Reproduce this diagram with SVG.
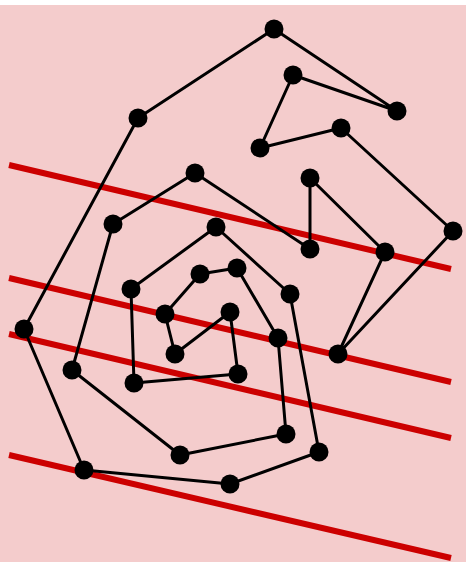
<svg xmlns="http://www.w3.org/2000/svg" width="466" height="562" viewBox="0 0 466 562">
<style>
.red{stroke:#cc0000;stroke-width:6;fill:none}
.edge{stroke:#000;stroke-width:3;fill:none;stroke-linejoin:round}
.node circle{fill:#000}
</style>
<rect x="0" y="0" width="466" height="562" fill="#ffffff"/>
<rect x="0" y="5" width="466" height="557" fill="#f4cccc"/>
<g id="red-lines">
<line class="red" x1="9" y1="165" x2="451" y2="269"/>
<line class="red" x1="9" y1="278" x2="451" y2="382"/>
<line class="red" x1="9" y1="334" x2="451" y2="438"/>
<line class="red" x1="9" y1="455" x2="451" y2="558"/>
</g>
<g id="connectors">
<polygon class="edge" points="274,29 397,111 293,75 260,148 341,128 453,231 338,354 385,252 310,178 310,249 195,173 113,224 72,370 180,455 286,434 278,338 237,268 200,274 165,314 175,354 230,312 238,374 134,383 131,289 216,227 290,294 319,452 230,484 84,470 24,329 138,118"/>
</g>
<g class="node" id="n1"><circle cx="274" cy="29" r="9.5"/></g>
<g class="node" id="n2"><circle cx="397" cy="111" r="9.5"/></g>
<g class="node" id="n3"><circle cx="293" cy="75" r="9.5"/></g>
<g class="node" id="n4"><circle cx="260" cy="148" r="9.5"/></g>
<g class="node" id="n5"><circle cx="341" cy="128" r="9.5"/></g>
<g class="node" id="n6"><circle cx="453" cy="231" r="9.5"/></g>
<g class="node" id="n7"><circle cx="338" cy="354" r="9.5"/></g>
<g class="node" id="n8"><circle cx="385" cy="252" r="9.5"/></g>
<g class="node" id="n9"><circle cx="310" cy="178" r="9.5"/></g>
<g class="node" id="n10"><circle cx="310" cy="249" r="9.5"/></g>
<g class="node" id="n11"><circle cx="195" cy="173" r="9.5"/></g>
<g class="node" id="n12"><circle cx="113" cy="224" r="9.5"/></g>
<g class="node" id="n13"><circle cx="72" cy="370" r="9.5"/></g>
<g class="node" id="n14"><circle cx="180" cy="455" r="9.5"/></g>
<g class="node" id="n15"><circle cx="286" cy="434" r="9.5"/></g>
<g class="node" id="n16"><circle cx="278" cy="338" r="9.5"/></g>
<g class="node" id="n17"><circle cx="237" cy="268" r="9.5"/></g>
<g class="node" id="n18"><circle cx="200" cy="274" r="9.5"/></g>
<g class="node" id="n19"><circle cx="165" cy="314" r="9.5"/></g>
<g class="node" id="n20"><circle cx="175" cy="354" r="9.5"/></g>
<g class="node" id="n21"><circle cx="230" cy="312" r="9.5"/></g>
<g class="node" id="n22"><circle cx="238" cy="374" r="9.5"/></g>
<g class="node" id="n23"><circle cx="134" cy="383" r="9.5"/></g>
<g class="node" id="n24"><circle cx="131" cy="289" r="9.5"/></g>
<g class="node" id="n25"><circle cx="216" cy="227" r="9.5"/></g>
<g class="node" id="n26"><circle cx="290" cy="294" r="9.5"/></g>
<g class="node" id="n27"><circle cx="319" cy="452" r="9.5"/></g>
<g class="node" id="n28"><circle cx="230" cy="484" r="9.5"/></g>
<g class="node" id="n29"><circle cx="84" cy="470" r="9.5"/></g>
<g class="node" id="n30"><circle cx="24" cy="329" r="9.5"/></g>
<g class="node" id="n31"><circle cx="138" cy="118" r="9.5"/></g>
</svg>
